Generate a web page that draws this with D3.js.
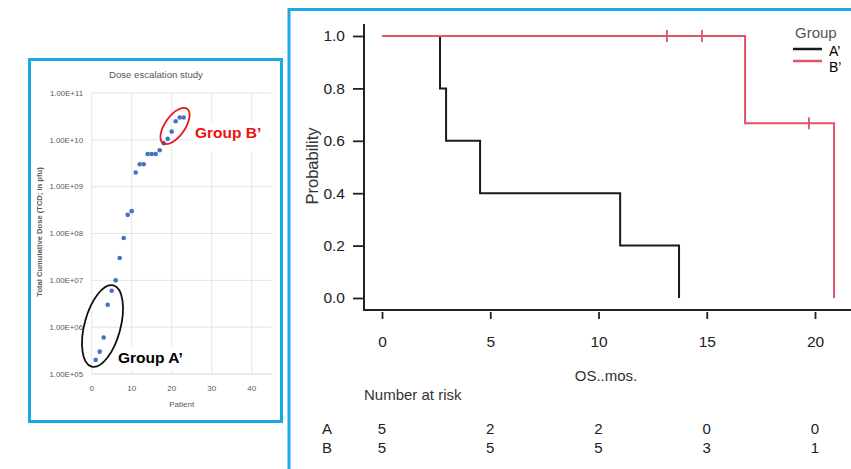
<!DOCTYPE html>
<html><head><meta charset="utf-8">
<script src="https://cdn.jsdelivr.net/npm/d3@7"></script>
<style>
html,body{margin:0;padding:0;background:#fff;}
svg{display:block;}
</style></head>
<body>
<svg id="c" width="851" height="469"></svg>
<script>
// ---------- Left panel data (dose escalation) ----------
const patients = [1,2,3,4,5,6,7,8,9,10,11,12,13,14,15,16,17,18,19,20,21,22,23];
const doses = [2e5,3e5,6e5,3e6,6e6,1e7,3e7,8e7,2.5e8,3e8,2e9,3e9,3e9,5e9,5e9,5e9,6e9,8.5e9,1.05e10,1.5e10,2.5e10,3e10,3e10];
const doseTicks = [1e5,1e6,1e7,1e8,1e9,1e10,1e11];
const doseTickLabels = ["1.00E+05","1.00E+06","1.00E+07","1.00E+08","1.00E+09","1.00E+10","1.00E+11"];
const patientTicks = [0,10,20,30,40];

// ---------- Right panel data (Kaplan-Meier) ----------
const kmTimeA = [0, 2.68, 2.96, 4.53, 11.0, 13.72];
const kmSurvA = [1, 0.8, 0.6, 0.4, 0.2, 0];
const kmTimeB = [0, 16.77, 20.88];
const kmSurvB = [1, 0.667, 0];
const censorTimeB = [13.16, 14.78, 19.72];
const censorSurvB = [1, 1, 0.667];
const kmXTicks = [0,5,10,15,20];
const kmYTicks = [0,0.2,0.4,0.6,0.8,1.0];
const riskTimes = [0,5,10,15,20];
const riskA = [5,2,2,0,0];
const riskB = [5,5,5,3,1];
const groups = ["A\u2019","B\u2019"];
const riskRows = ["A","B"];

const svg = d3.select("#c");
const BLUE = "#1ca8e4";
const RED = "#df536b";

// ===== Left panel =====
const L = svg.append("g");
L.append("rect").attr("x",29.5).attr("y",59.5).attr("width",252).attr("height",362)
  .attr("fill","#fff").attr("stroke",BLUE).attr("stroke-width",3);

const lx = d3.scaleLinear().domain([0,45]).range([91.7,271.7]);
const ly = d3.scaleLog().domain([1e5,1e11]).range([374,93]);
const gridC = "#dedede";
L.append("g").selectAll("line").data(doseTicks).join("line")
  .attr("x1",lx(0)).attr("x2",lx(45)).attr("y1",d=>ly(d)).attr("y2",d=>ly(d))
  .attr("stroke",d=>d===1e5?"#c8c8c8":gridC).attr("stroke-width",0.8);
L.append("g").selectAll("line").data(patientTicks).join("line")
  .attr("x1",d=>lx(d)).attr("x2",d=>lx(d)).attr("y1",ly(1e11)).attr("y2",ly(1e5))
  .attr("stroke",gridC).attr("stroke-width",0.8);

L.append("g").selectAll("text").data(doseTicks).join("text")
  .attr("x",83).attr("y",d=>ly(d)).attr("dy","0.35em").attr("text-anchor","end")
  .attr("font-family","Liberation Sans, Arial, sans-serif").attr("font-size",7.8).attr("fill","#595959")
  .text((d,i)=>doseTickLabels[i]);
L.append("g").selectAll("text").data(patientTicks).join("text")
  .attr("x",d=>lx(d)).attr("y",391).attr("text-anchor","middle")
  .attr("font-family","Liberation Sans, Arial, sans-serif").attr("font-size",8).attr("fill","#595959")
  .text(d=>d);
L.append("text").attr("x",lx(22.5)).attr("y",407).attr("text-anchor","middle")
  .attr("font-family","Liberation Sans, Arial, sans-serif").attr("font-size",8).attr("fill","#595959")
  .text("Patient");
L.append("text").attr("transform","translate(42,232) rotate(-90)").attr("text-anchor","middle")
  .attr("font-family","Liberation Sans, Arial, sans-serif").attr("font-size",7.6).attr("font-weight","bold").attr("fill","#595959")
  .text("Total Cumulative Dose (TCD; in pfu)");
L.append("text").attr("x",156).attr("y",78).attr("text-anchor","middle")
  .attr("font-family","Liberation Sans, Arial, sans-serif").attr("font-size",9.6).attr("fill","#595959")
  .text("Dose escalation study");

L.append("g").selectAll("circle").data(patients).join("circle")
  .attr("cx",d=>lx(d)).attr("cy",(d,i)=>ly(doses[i])).attr("r",2.3).attr("fill","#4472c4");

// annotation boxes
L.append("rect").attr("x",192).attr("y",123).attr("width",78).attr("height",28).attr("fill","#fff");
L.append("rect").attr("x",116).attr("y",347).attr("width",74).attr("height",24).attr("fill","#fff");
L.append("ellipse").attr("transform","translate(175,126) rotate(35)").attr("rx",10).attr("ry",21)
  .attr("fill","none").attr("stroke","#e8161b").attr("stroke-width",1.8);
L.append("ellipse").attr("transform","translate(102.5,326) rotate(15)").attr("rx",18).attr("ry",42)
  .attr("fill","none").attr("stroke","#111").attr("stroke-width",1.8);
L.append("text").attr("x",195).attr("y",137.5)
  .attr("font-family","Liberation Sans, Arial, sans-serif").attr("font-size",15.5).attr("font-weight","bold").attr("fill","#ee1111")
  .text("Group B\u2019");
L.append("text").attr("x",118).attr("y",363)
  .attr("font-family","Liberation Sans, Arial, sans-serif").attr("font-size",15.5).attr("font-weight","bold").attr("fill","#000")
  .text("Group A\u2019");

// ===== Right panel =====
const R = svg.append("g");
R.append("rect").attr("x",289).attr("y",9.5).attr("width",600).attr("height",500)
  .attr("fill","#fff").attr("stroke",BLUE).attr("stroke-width",3);

const rx = d3.scaleLinear().domain([0,20]).range([382,815]);
const ry = d3.scaleLinear().domain([0,1]).range([298,36]);
const FF = "Liberation Sans, Arial, Helvetica, sans-serif";
const TXT = "#222";

// axis frame lines
R.append("line").attr("x1",364).attr("x2",364).attr("y1",24).attr("y2",311).attr("stroke",TXT).attr("stroke-width",2);
R.append("line").attr("x1",363).attr("x2",860).attr("y1",310).attr("y2",310).attr("stroke",TXT).attr("stroke-width",2);

const yAx = R.append("g").attr("transform","translate(364,0)")
  .call(d3.axisLeft(ry).tickValues(kmYTicks).tickFormat(d3.format(".1f")).tickSize(11).tickPadding(8));
yAx.select(".domain").remove();
yAx.selectAll("line").attr("stroke",TXT).attr("stroke-width",1.8);
yAx.selectAll("text").attr("font-family",FF).attr("font-size",15.5).attr("fill",TXT);

const xAx = R.append("g").attr("transform","translate(0,312)")
  .call(d3.axisBottom(rx).tickValues(kmXTicks).tickSize(7).tickPadding(17));
xAx.select(".domain").remove();
xAx.selectAll("line").attr("stroke",TXT).attr("stroke-width",1.8);
xAx.selectAll("text").attr("font-family",FF).attr("font-size",15.5).attr("fill",TXT);

R.append("text").attr("transform","translate(318,166) rotate(-90)").attr("text-anchor","middle")
  .attr("font-family",FF).attr("font-size",16.5).attr("fill","#333").text("Probability");
R.append("text").attr("x",606).attr("y",381).attr("text-anchor","middle")
  .attr("font-family",FF).attr("font-size",15).attr("fill","#333").text("OS..mos.");

// KM curves
const stepLine = d3.line().x(d=>rx(d[0])).y(d=>ry(d[1])).curve(d3.curveStepAfter);
R.append("path").datum(kmTimeA.map((t,i)=>[t,kmSurvA[i]])).attr("d",stepLine)
  .attr("fill","none").attr("stroke","#1a1a1a").attr("stroke-width",2);
R.append("path").datum(kmTimeB.map((t,i)=>[t,kmSurvB[i]])).attr("d",stepLine)
  .attr("fill","none").attr("stroke",RED).attr("stroke-width",2);
R.append("g").selectAll("line").data(censorTimeB).join("line")
  .attr("x1",d=>rx(d)).attr("x2",d=>rx(d))
  .attr("y1",(d,i)=>ry(censorSurvB[i])-6).attr("y2",(d,i)=>ry(censorSurvB[i])+6)
  .attr("stroke",RED).attr("stroke-width",1.8);

// legend
R.append("text").attr("x",795).attr("y",38).attr("font-family",FF).attr("font-size",15).attr("fill","#555").text("Group");
const legColors = ["#1a1a1a",RED];
const legLineY = [49,61];
const legTextY = [56,72];
R.append("g").selectAll("line").data(groups).join("line")
  .attr("x1",793).attr("x2",822).attr("y1",(d,i)=>legLineY[i]).attr("y2",(d,i)=>legLineY[i])
  .attr("stroke",(d,i)=>legColors[i]).attr("stroke-width",2.5);
R.append("g").selectAll("text").data(groups).join("text")
  .attr("x",829).attr("y",(d,i)=>legTextY[i]).attr("font-family",FF).attr("font-size",14).attr("fill","#000")
  .text(d=>d);

// number at risk
R.append("text").attr("x",364).attr("y",400).attr("font-family",FF).attr("font-size",15).attr("fill","#333").text("Number at risk");
const riskData = [riskA, riskB];
const rowY = [434,453];
riskRows.forEach((lab,ri)=>{
  R.append("text").attr("x",322).attr("y",rowY[ri]).attr("font-family",FF).attr("font-size",15).attr("fill",TXT).text(lab);
  R.append("g").selectAll("text").data(riskTimes).join("text")
    .attr("x",d=>rx(d)).attr("y",rowY[ri]).attr("text-anchor","middle")
    .attr("font-family",FF).attr("font-size",15).attr("fill",TXT)
    .text((d,i)=>riskData[ri][i]);
});
</script>
</body></html>
